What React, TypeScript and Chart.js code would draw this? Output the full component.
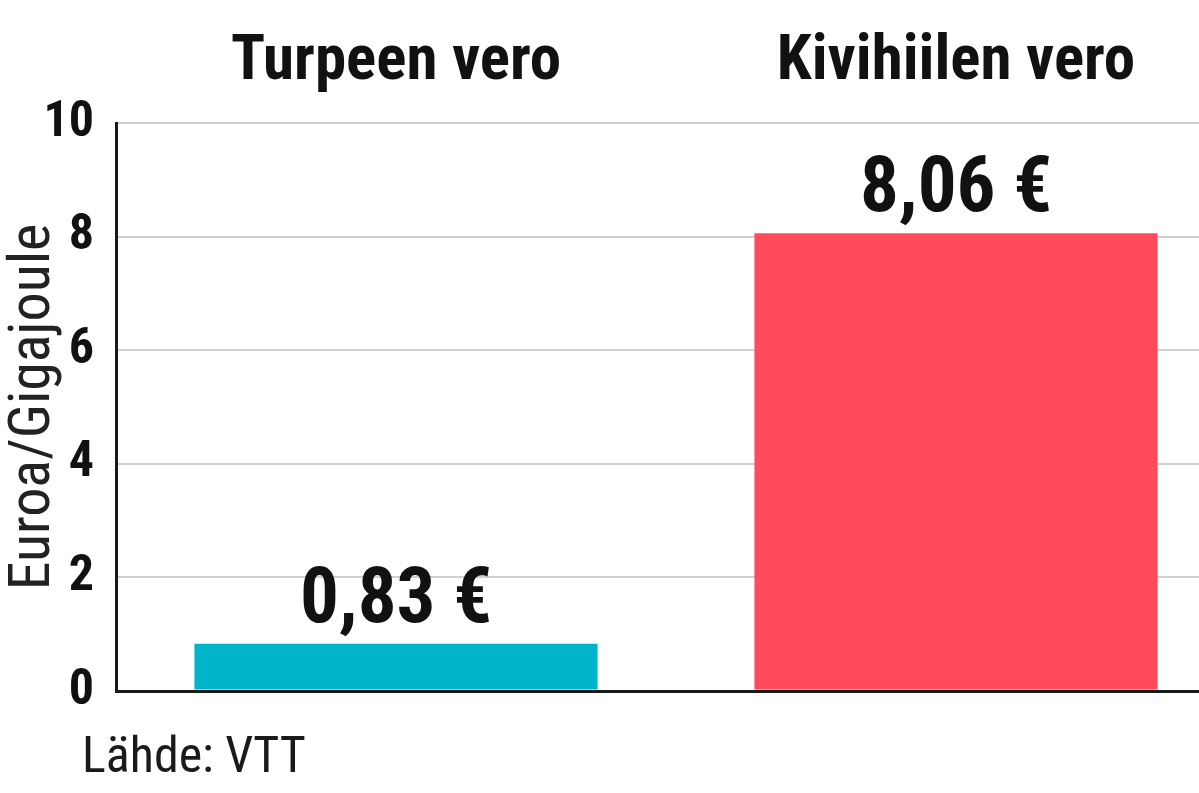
import React, { useEffect, useRef } from 'react';
import { Chart, registerables } from 'chart.js';

Chart.register(...registerables);

const categories = ['Turpeen vero', 'Kivihiilen vero'];
const values = [0.83, 8.06];
const valueLabels = ['0,83 €', '8,06 €'];
const barColors = ['#00b5c9', '#ff4b5c'];
const yMin = 0;
const yMax = 10;
const yStep = 2;
const yTitle = 'Euroa/Gigajoule';
const sourceText = 'Lähde: VTT';

const FONT = "'Roboto Condensed', 'Roboto', sans-serif";

const extrasPlugin = {
  id: 'extras',
  afterDatasetsDraw(chart: any) {
    const ctx = chart.ctx;
    const meta = chart.getDatasetMeta(0);
    ctx.save();
    ctx.fillStyle = '#111';
    ctx.textAlign = 'center';
    ctx.textBaseline = 'alphabetic';
    ctx.font = `bold 77px ${FONT}`;
    meta.data.forEach((bar: any, i: number) => {
      ctx.fillText(valueLabels[i], bar.x, bar.y - 22);
    });
    ctx.textAlign = 'left';
    ctx.fillStyle = '#1a1a1a';
    ctx.font = `normal 50px ${FONT}`;
    ctx.fillText(sourceText, 82, 772);
    ctx.restore();
  },
};

export default function App() {
  const ref = useRef<HTMLCanvasElement>(null);
  useEffect(() => {
    if (!ref.current) return;
    const chart = new Chart(ref.current, {
      type: 'bar',
      data: {
        labels: categories,
        datasets: [
          {
            data: values,
            backgroundColor: barColors,
            borderWidth: 0,
          },
        ],
      },
      options: {
        responsive: false,
        animation: false,
        devicePixelRatio: 1,
        layout: { padding: { top: 0, left: 0, right: 0, bottom: 102 } },
        plugins: {
          legend: { display: false },
          tooltip: { enabled: false },
          title: { display: false },
        },
        scales: {
          x: {
            position: 'top',
            grid: { display: false },
            border: { display: false },
            ticks: {
              color: '#111',
              padding: 14,
              font: { family: FONT, size: 63, weight: 'bold' },
            },
            afterFit: (s: any) => {
              s.height = 123;
            },
          },
          y: {
            min: yMin,
            max: yMax,
            border: { display: true, color: '#1a1a1a', width: 3 },
            grid: {
              drawTicks: false,
              color: (c: any) => (c.tick && c.tick.value === 0 ? '#1a1a1a' : '#d0d0d0'),
              lineWidth: (c: any) => (c.tick && c.tick.value === 0 ? 3 : 2),
            },
            ticks: {
              stepSize: yStep,
              color: '#111',
              padding: 22,
              font: { family: FONT, size: 50, weight: 'bold' },
            },
            title: {
              display: true,
              text: yTitle,
              color: '#222',
              padding: { top: 0, bottom: 0 },
              font: { family: FONT, size: 58, weight: 'normal' },
            },
            afterFit: (s: any) => {
              s.width = 116;
            },
          },
        },
      },
      plugins: [extrasPlugin],
    } as any);
    return () => chart.destroy();
  }, []);
  return (
    <div
      style={{
        position: 'fixed',
        left: 0,
        top: 0,
        width: 1199,
        height: 793,
        overflow: 'hidden',
        background: '#fff',
      }}
    >
      <canvas ref={ref} width={1236} height={793} style={{ display: 'block' }} />
    </div>
  );
}
